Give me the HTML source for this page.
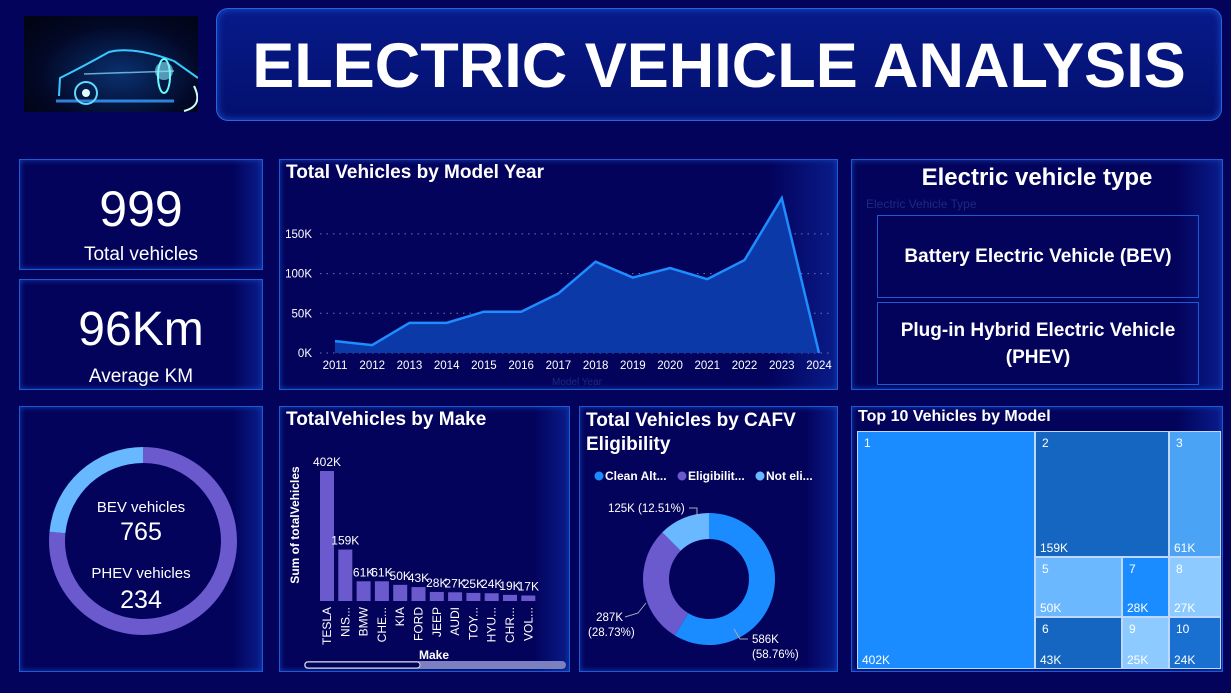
<!DOCTYPE html>
<html><head><meta charset="utf-8">
<style>
*{box-sizing:border-box;margin:0;padding:0}
body{width:1231px;height:693px;background:#03035c;font-family:"Liberation Sans",sans-serif;color:#fff;position:relative;overflow:hidden}
.p{position:absolute;border:1.5px solid #1d5bd6;background:linear-gradient(90deg,#03035c 88%,#0a1c8a 100%);box-shadow:0 0 6px #1540b0 inset}
.t{position:absolute;font-weight:bold;font-size:19px;left:6px;top:2px;white-space:nowrap}
svg text{font-family:"Liberation Sans",sans-serif}
</style></head><body>
<div style="position:absolute;left:24px;top:16px;width:174px;height:96px;background:radial-gradient(ellipse at 55% 60%,#0a3070 0%,#020826 60%,#01030f 100%)">
<svg width="174" height="96">
<path d="M32 85 L150 85" stroke="#3aa0ff" stroke-width="3" opacity=".8"/>
<path d="M35 80 L36 62 Q60 50 85 36 Q110 30 150 45 L174 62" fill="none" stroke="#39c9ff" stroke-width="2"/>
<path d="M60 58 L150 55" stroke="#8fe8ff" stroke-width="1.5" opacity=".7"/>
<circle cx="62" cy="77" r="11" fill="none" stroke="#5fdcff" stroke-width="2"/><circle cx="62" cy="77" r="4" fill="#dff"/>
<ellipse cx="140" cy="60" rx="6" ry="17" fill="none" stroke="#6ff" stroke-width="2"/>
<circle cx="140" cy="55" r="9" fill="#8ef" opacity=".6"/>
<path d="M170 70 Q180 90 160 95" stroke="#cff" stroke-width="2" fill="none"/>
</svg></div>
<div style="position:absolute;left:216px;top:8px;width:1006px;height:113px;border:1.5px solid #2c63d8;border-radius:12px;background:linear-gradient(180deg,#071a8a,#04106e);box-shadow:0 0 8px #1a4ed0 inset">
<div style="position:absolute;left:0;right:0;top:21px;text-align:center;font-size:63px;font-weight:bold">ELECTRIC VEHICLE ANALYSIS</div></div>

<div class="p" style="left:19px;top:159px;width:244px;height:111px">
<div style="position:absolute;width:100%;text-align:center;top:20px;font-size:50px">999</div>
<div style="position:absolute;width:100%;text-align:center;top:84px;font-size:19px">Total vehicles</div></div>
<div class="p" style="left:19px;top:279px;width:244px;height:111px">
<div style="position:absolute;width:100%;text-align:center;top:22px;font-size:48px">96Km</div>
<div style="position:absolute;width:100%;text-align:center;top:86px;font-size:19px">Average KM</div></div>

<div class="p" style="left:19px;top:406px;width:244px;height:266px">
<svg id="ring" width="244" height="266" style="position:absolute;left:0;top:0"></svg>
<div style="position:absolute;width:100%;text-align:center;top:92px;font-size:15px">BEV vehicles</div>
<div style="position:absolute;width:100%;text-align:center;top:111px;font-size:25px">765</div>
<div style="position:absolute;width:100%;text-align:center;top:158px;font-size:15px">PHEV vehicles</div>
<div style="position:absolute;width:100%;text-align:center;top:179px;font-size:25px">234</div>
</div>

<div class="p" style="left:279px;top:159px;width:559px;height:231px">
<div class="t">Total Vehicles by Model Year</div>
<svg id="area" width="559" height="231" style="position:absolute;left:0;top:0"></svg></div>

<div class="p" style="left:851px;top:159px;width:372px;height:231px">
<div style="position:absolute;width:100%;text-align:center;top:4px;font-size:24px;font-weight:bold">Electric vehicle type</div>
<div style="position:absolute;left:14px;top:37px;font-size:12px;color:#1c2a80">Electric Vehicle Type</div>
<div style="position:absolute;left:25px;top:55px;width:322px;height:83px;border:1.5px solid #1d5bd6;display:flex;align-items:center;justify-content:center;font-size:19px;font-weight:bold">Battery Electric Vehicle (BEV)</div>
<div style="position:absolute;left:25px;top:142px;width:322px;height:83px;border:1.5px solid #1d5bd6;display:flex;align-items:center;justify-content:center;text-align:center;font-size:19px;font-weight:bold;line-height:27px">Plug-in Hybrid Electric Vehicle<br>(PHEV)</div></div>

<div class="p" style="left:279px;top:406px;width:291px;height:266px">
<div class="t">TotalVehicles by Make</div>
<svg id="bars" width="291" height="266" style="position:absolute;left:0;top:0"></svg></div>

<div class="p" style="left:579px;top:406px;width:259px;height:266px">
<div class="t" style="line-height:24px">Total Vehicles by CAFV<br>Eligibility</div>
<svg id="donut" width="259" height="266" style="position:absolute;left:0;top:0"></svg></div>

<div class="p" style="left:851px;top:406px;width:372px;height:266px">
<div class="t" style="font-size:16px;top:1px">Top 10 Vehicles by Model</div>
<svg id="tree" width="372" height="266" style="position:absolute;left:0;top:0"></svg></div>

<script>
const NS="http://www.w3.org/2000/svg";
function mk(p,tag,attrs,txt){const e=document.createElementNS(NS,tag);for(const k in attrs)e.setAttribute(k,attrs[k]);if(txt!==undefined)e.textContent=txt;p.appendChild(e);return e;}
function arc(cx,cy,r0,r1,a0,a1){const p=(r,a)=>[cx+r*Math.sin(a),cy-r*Math.cos(a)];const L=(a1-a0)>Math.PI?1:0;const A=p(r1,a0),B=p(r1,a1),C=p(r0,a1),D=p(r0,a0);return `M${A}A${r1},${r1} 0 ${L} 1 ${B}L${C}A${r0},${r0} 0 ${L} 0 ${D}Z`;}

// ring
const ringLabels=["BEV","PHEV"];
const ringValues=[765,234];
const ringColors=["#6a5acd","#68b8ff"];
(function(){const s=document.getElementById('ring');const tot=ringValues.reduce((a,b)=>a+b);let a=0;
ringValues.forEach((v,i)=>{const da=v/tot*2*Math.PI;const e=mk(s,'path',{d:arc(123,134,78,94,a,a+da-0.0001),fill:ringColors[i]});

a+=da;});})();

// area chart
const years=["2011","2012","2013","2014","2015","2016","2017","2018","2019","2020","2021","2022","2023","2024"];
const yearValues=[15,10,38,38,52,52,75,115,95,107,93,117,195,0];
const yTicks=[0,50,100,150];
(function(){const s=document.getElementById('area');const x0=55,x1=539,yb=193,k=39.7/50;
const X=i=>x0+i*(x1-x0)/(years.length-1),Y=v=>yb-v*k;
yTicks.forEach(t=>{const l=mk(s,'line',{x1:40,x2:553,y1:Y(t),y2:Y(t),stroke:'#6a74b8','stroke-dasharray':'1.5 5'});


const tx=mk(s,'text',{x:32,y:Y(t)+4,'text-anchor':'end','font-size':11.5,fill:'#fff'},t+'K');

});
let pts=yearValues.map((v,i)=>X(i)+','+Y(v)).join(' ');
const ar=mk(s,'polygon',{points:X(0)+','+yb+' '+pts+' '+X(years.length-1)+','+yb,fill:'#0b3aa8'});


const ln=mk(s,'polyline',{points:pts,fill:'none',stroke:'#1f8cff','stroke-width':2.5});


years.forEach((y,i)=>{const t=mk(s,'text',{x:X(i),y:209,'text-anchor':'middle','font-size':11.5,fill:'#fff'},y);

});
const xt=mk(s,'text',{x:297,y:225,'text-anchor':'middle','font-size':10,fill:'#1c2a80'},'Model Year');

})();

// bar chart
const makes=["TESLA","NIS...","BMW","CHE...","KIA","FORD","JEEP","AUDI","TOY...","HYU...","CHR...","VOL..."];
const makeValues=[402,159,61,61,50,43,28,27,25,24,19,17];
(function(){const s=document.getElementById('bars');const yb=194,k=130/402,x0=40,step=18.3,w=14;
makes.forEach((m,i)=>{const h=makeValues[i]*k,x=x0+i*step;
const r=mk(s,'rect',{x:x,y:yb-h,width:w,height:h,fill:'#6a5acd'});


const t=mk(s,'text',{x:x+w/2,y:yb-h-5,'text-anchor':'middle','font-size':12,fill:'#fff'},makeValues[i]+'K');


const l=mk(s,'text',{x:0,y:0,'font-size':12,fill:'#fff','text-anchor':'end',transform:`translate(${x+w/2+4},${yb+6}) rotate(-90)`},m);

});
const yt=mk(s,'text',{x:0,y:0,'font-size':12,'font-weight':'bold',fill:'#fff','text-anchor':'middle',transform:'translate(19,118) rotate(-90)'},'Sum of totalVehicles');


const xt=mk(s,'text',{x:154,y:252,'font-size':12,'font-weight':'bold',fill:'#fff','text-anchor':'middle'},'Make');


const sb=mk(s,'rect',{x:24,y:254,width:262,height:8,rx:4,fill:'#7b80c0'});


const th=mk(s,'rect',{x:25,y:255,width:115,height:6,rx:3,fill:'#03035c',stroke:'#ddd'});

})();

// CAFV donut
const cafvLabels=["Clean Alt...","Eligibilit...","Not eli..."];
const cafvValues=[586,287,125];
const cafvPct=["58.76%","28.73%","12.51%"];
const cafvColors=["#1a8cff","#6a5acd","#6ab8ff"];
(function(){const s=document.getElementById('donut');const cx=129,cy=172;const tot=cafvValues.reduce((a,b)=>a+b);
let lx=14;cafvLabels.forEach((l,i)=>{const c=mk(s,'circle',{cx:lx+5,cy:69,r:4.5,fill:cafvColors[i]});


const t=mk(s,'text',{x:lx+11,y:73,'font-size':12,'font-weight':'bold',fill:'#fff'},l);

lx+=[83,78,0][i];});
let a=0;cafvValues.forEach((v,i)=>{const da=v/tot*2*Math.PI;
const p=mk(s,'path',{d:arc(cx,cy,40,66,a,a+da-0.0001),fill:cafvColors[i]});

a+=da;});
const labs=[[[172,236],[172,251]],[[43,214,'end'],[8,229]],[[28,105]]];
labs.forEach((L,i)=>{const lines=i==2?[cafvValues[i]+'K ('+cafvPct[i]+')']:[cafvValues[i]+'K','('+cafvPct[i]+')'];
lines.forEach((txt,j)=>{const q=L[j];const t=mk(s,'text',{x:q[0],y:q[1],'font-size':11.5,fill:'#fff','text-anchor':q[2]||'start'},txt);

});});
[[[109,101],[117,101],[117,110]],[[45,210],[58,206],[66,196]],[[168,232],[160,232],[154,222]]].forEach(pts=>{const l=mk(s,'polyline',{points:pts.join(' '),fill:'none',stroke:'#aab','stroke-width':1});

});})();

// treemap
const models=["1","2","3","5","7","8","6","9","10"];
const modelValues=["402K","159K","61K","50K","28K","27K","43K","25K","24K"];
const tmRects=[[6,25,176,236,"#1a8cff"],[184,25,132,124,"#1466c0"],[318,25,50,124,"#4aa3f5"],[184,151,85,58,"#6bb8ff"],[271,151,45,58,"#1a8cff"],[318,151,50,58,"#8ccaff"],[184,211,85,50,"#1466c0"],[271,211,45,50,"#8ccaff"],[318,211,50,50,"#1a70d0"]];
(function(){const s=document.getElementById('tree');
mk(s,'rect',{x:5,y:24,width:364,height:238,fill:'#c0d8ff'});
models.forEach((m,i)=>{const r=tmRects[i];
const e=mk(s,'rect',{x:r[0],y:r[1],width:r[2],height:r[3],fill:r[4]});


const a=mk(s,'text',{x:r[0]+6,y:r[1]+15,'font-size':12,fill:'#fff'},m);


const b=mk(s,'text',{x:r[0]+4,y:r[1]+r[3]-4,'font-size':12,fill:'#fff'},modelValues[i]);

});})();
</script>
</body></html>
